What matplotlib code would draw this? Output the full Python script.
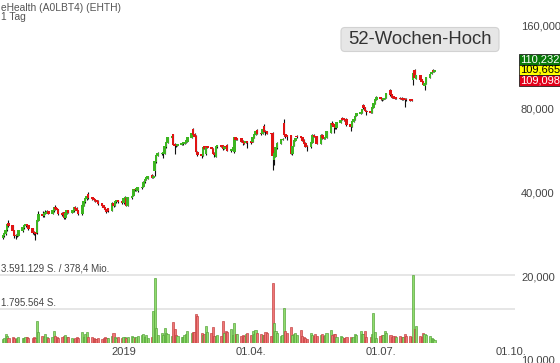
import datetime as dt
import matplotlib
matplotlib.use("Agg")
import matplotlib.pyplot as plt
import matplotlib.dates as mdates
import matplotlib.ticker as mticker
from matplotlib.patches import Rectangle, FancyBboxPatch
import pandas as pd

plt.rcParams['font.family'] = ['Liberation Sans', 'DejaVu Sans']

# ---------------- data ----------------
title = "eHealth (A0LBT4) (EHTH)"
interval_label = "1 Tag"
start_date = "2018-10-08"

opens = [
    27.6, 27.9, 28.4, 29.3, 30.9, 30.3, 29.1, 28.1, 27.9, 28.1,
    29.1, 29.8, 30.3, 30.6, 30.3, 29.6, 28.8, 28.6, 28.6, 31.8,
    33.4, 32.9, 33.7, 34.0, 34.1, 33.7, 34.3, 35.2, 34.9, 34.6,
    33.7, 33.9, 32.4, 33.7, 34.3, 34.0, 34.3, 35.2, 35.1, 34.3,
    33.5, 36.0, 37.0, 37.9, 39.2, 38.2, 37.9, 37.6, 37.3, 37.2,
    36.4, 35.8, 35.2, 34.6, 34.9, 34.4, 36.6, 36.0, 37.0, 37.3,
    37.0, 36.7, 38.0, 37.9, 36.0, 38.2, 39.0, 41.0, 40.8, 40.5,
    41.5, 42.0, 43.6, 44.6, 45.0, 46.0, 45.4, 48.0, 51.5, 54.4,
    55.0, 55.4, 55.4, 58.3, 60.5, 62.8, 64.4, 59.7, 59.4, 58.9,
    59.3, 59.8, 59.8, 60.5, 61.0, 63.0, 67.1, 64.8, 63.8, 55.6,
    54.8, 54.5, 58.4, 55.0, 58.3, 58.0, 57.3, 55.4, 54.0, 58.3,
    58.8, 58.8, 57.4, 58.5, 59.2, 56.8, 56.9, 56.0, 62.8, 62.5,
    62.5, 61.2, 60.7, 60.3, 60.8, 60.8, 61.0, 63.0, 64.5, 67.0,
    65.4, 65.4, 69.0, 66.5, 66.0, 65.2, 65.4, 52.5, 54.0, 57.8,
    60.2, 62.0, 71.0, 64.4, 64.0, 64.0, 55.4, 58.8, 61.5, 63.8,
    63.3, 63.0, 61.7, 60.2, 58.7, 58.3, 60.7, 64.3, 63.6, 63.3,
    60.2, 64.3, 63.0, 62.7, 63.2, 65.5, 71.0, 70.0, 68.8, 68.2,
    71.5, 73.5, 73.5, 73.0, 73.4, 70.3, 68.8, 72.2, 73.2, 75.3,
    76.6, 77.5, 82.5, 80.5, 78.5, 78.3, 77.2, 80.5, 83.2, 86.0,
    88.1, 86.5, 86.0, 86.9, 87.5, 93.4, 90.0, 88.5, 88.0, 87.6,
    87.4, 87.4, 86.8, 86.7, 86.7, 86.5, 86.0, 101.5, 110.2, 102.6,
    105.3, 102.0, 100.5, 97.3, 98.9, 103.5, 107.2, 109.6, 109.1,
]
closes = [
    27.9, 28.4, 29.3, 30.6, 30.3, 29.1, 28.1, 27.9, 28.1, 29.1,
    29.8, 30.3, 30.6, 30.3, 29.6, 28.8, 28.6, 28.4, 31.8, 33.2,
    32.9, 33.7, 34.0, 34.1, 33.7, 34.3, 35.2, 34.9, 34.6, 33.7,
    33.2, 32.4, 33.7, 34.3, 34.0, 34.3, 35.2, 35.1, 34.3, 33.5,
    36.0, 37.0, 37.9, 38.8, 38.2, 37.9, 37.6, 37.3, 37.2, 36.4,
    35.8, 35.2, 34.6, 34.1, 34.4, 36.6, 36.0, 37.0, 37.3, 37.0,
    36.9, 38.0, 38.2, 36.0, 38.2, 38.8, 41.0, 40.8, 41.2, 41.5,
    41.8, 43.6, 44.6, 45.3, 45.6, 45.4, 45.8, 51.5, 54.5, 55.2,
    55.4, 55.6, 58.3, 60.7, 62.8, 63.3, 59.7, 59.2, 58.9, 59.3,
    59.8, 60.3, 60.5, 61.5, 62.8, 64.9, 64.8, 63.8, 56.0, 54.8,
    54.5, 58.0, 57.4, 57.8, 58.0, 57.5, 55.4, 54.8, 58.3, 58.8,
    58.6, 57.3, 58.5, 58.3, 56.8, 56.9, 58.0, 62.8, 62.0, 62.0,
    61.2, 60.5, 60.2, 60.8, 60.4, 60.3, 62.8, 64.5, 66.5, 65.4,
    65.2, 67.6, 66.5, 66.0, 65.2, 65.0, 54.5, 55.0, 57.8, 60.2,
    62.0, 62.2, 64.4, 63.8, 63.5, 55.4, 58.3, 61.5, 62.5, 63.3,
    62.8, 61.7, 60.2, 58.5, 58.3, 60.7, 64.3, 63.6, 63.3, 60.2,
    64.3, 62.8, 62.7, 63.2, 66.0, 70.5, 70.0, 68.8, 68.2, 71.5,
    72.8, 73.0, 72.9, 72.5, 69.9, 68.8, 72.2, 73.2, 75.3, 76.6,
    77.5, 79.2, 80.5, 78.5, 77.9, 77.2, 80.5, 83.2, 86.0, 88.1,
    86.7, 86.0, 86.9, 87.4, 90.4, 89.6, 88.1, 87.6, 87.2, 87.2,
    87.0, 86.2, 86.4, 86.3, 86.0, 85.6, 85.5, 107.0, 104.0, 105.3,
    101.5, 100.5, 97.8, 98.9, 104.0, 106.6, 108.4, 109.1, 110.2,
]
highs = [
    28.2, 28.7, 29.6, 31.0, 31.8, 30.6, 29.4, 28.4, 28.5, 29.4,
    30.0, 30.5, 30.9, 30.8, 30.5, 29.9, 29.0, 28.9, 32.2, 34.3,
    34.2, 34.0, 34.5, 34.6, 34.4, 34.6, 35.5, 35.9, 35.2, 34.9,
    34.0, 34.1, 33.9, 34.6, 34.7, 34.6, 35.5, 35.6, 35.3, 34.6,
    36.3, 37.3, 38.2, 39.3, 40.0, 38.6, 38.2, 37.9, 37.6, 37.5,
    36.6, 36.0, 35.4, 34.8, 35.2, 36.9, 37.0, 37.3, 37.7, 37.6,
    37.3, 38.4, 38.8, 38.3, 38.5, 39.2, 41.3, 41.5, 41.6, 41.9,
    42.1, 43.9, 44.9, 45.6, 46.0, 46.4, 46.2, 52.0, 55.0, 55.8,
    55.8, 56.0, 58.7, 61.0, 63.2, 64.0, 65.0, 60.1, 59.8, 59.7,
    60.1, 60.6, 60.9, 61.9, 63.2, 65.6, 68.0, 65.6, 64.2, 56.2,
    55.2, 58.4, 58.8, 58.2, 58.7, 58.3, 57.6, 55.8, 58.7, 59.2,
    59.2, 59.2, 58.9, 58.9, 59.6, 57.3, 58.4, 63.2, 63.4, 63.0,
    62.9, 61.6, 61.1, 61.2, 61.3, 61.2, 63.1, 64.9, 66.9, 67.6,
    65.8, 68.0, 70.5, 66.8, 66.4, 65.6, 65.8, 55.5, 58.2, 60.6,
    62.4, 62.6, 73.5, 64.8, 64.4, 64.4, 58.7, 61.9, 62.9, 64.3,
    63.7, 63.4, 62.1, 60.6, 59.1, 61.1, 64.7, 64.8, 64.0, 63.7,
    64.7, 64.7, 63.4, 63.6, 66.4, 70.9, 72.3, 70.4, 69.2, 71.9,
    73.2, 74.5, 74.0, 73.4, 73.8, 70.7, 72.6, 73.6, 75.7, 77.0,
    77.9, 79.6, 83.0, 80.9, 78.9, 78.7, 80.9, 83.6, 86.4, 88.6,
    88.5, 86.9, 87.3, 87.8, 90.8, 94.5, 90.4, 88.9, 88.4, 88.0,
    87.8, 87.8, 87.2, 87.1, 87.1, 86.9, 86.4, 110.2, 111.0, 105.8,
    105.7, 102.4, 100.9, 99.3, 104.4, 107.0, 108.8, 111.0, 110.6,
]
lows = [
    27.2, 27.6, 28.1, 29.0, 30.0, 28.8, 27.5, 27.2, 27.6, 27.9,
    28.9, 29.6, 30.0, 30.0, 29.3, 28.4, 28.0, 27.0, 28.4, 31.5,
    32.5, 32.6, 33.4, 33.7, 33.4, 33.5, 34.0, 34.5, 34.2, 33.3,
    32.9, 32.1, 32.2, 33.4, 33.6, 33.8, 34.0, 34.7, 34.0, 33.1,
    33.3, 35.7, 36.7, 37.6, 37.9, 37.6, 37.2, 37.0, 36.8, 36.1,
    35.5, 34.9, 34.3, 33.7, 33.9, 34.2, 35.5, 35.7, 36.7, 36.6,
    36.2, 36.4, 37.6, 35.6, 35.7, 37.9, 38.7, 40.3, 40.3, 40.1,
    41.2, 41.7, 43.3, 44.3, 44.7, 45.0, 45.0, 46.0, 51.0, 54.0,
    54.6, 53.0, 55.0, 58.0, 60.2, 62.4, 59.3, 54.8, 58.4, 58.5,
    59.0, 59.4, 59.5, 60.2, 60.7, 62.7, 64.6, 63.2, 55.5, 54.2,
    53.0, 54.2, 57.1, 54.7, 57.6, 57.2, 55.0, 53.8, 53.6, 58.0,
    58.2, 57.0, 57.1, 57.9, 56.3, 56.0, 56.5, 55.6, 61.6, 61.5,
    60.9, 59.0, 59.8, 60.0, 58.0, 59.9, 60.7, 62.7, 64.2, 65.0,
    64.2, 65.0, 66.1, 64.6, 64.8, 64.6, 48.3, 50.0, 53.8, 57.5,
    59.9, 61.7, 64.0, 63.0, 61.5, 55.0, 54.6, 58.5, 61.2, 62.9,
    62.4, 61.4, 59.9, 58.2, 56.5, 58.0, 60.4, 63.2, 62.9, 59.6,
    59.5, 62.4, 62.2, 62.3, 62.9, 65.2, 69.6, 65.5, 67.8, 67.9,
    71.2, 72.6, 72.5, 72.1, 69.5, 66.5, 68.5, 71.9, 73.0, 75.0,
    76.3, 77.2, 80.1, 78.2, 76.0, 76.9, 76.9, 80.2, 82.9, 85.7,
    86.3, 85.6, 85.7, 86.6, 87.2, 89.2, 87.7, 87.2, 86.8, 86.8,
    86.6, 85.8, 86.0, 81.2, 85.6, 85.2, 85.1, 97.3, 103.5, 102.2,
    101.1, 100.1, 97.0, 93.4, 98.5, 103.1, 106.8, 108.7, 108.7,
]
# volume in thousand shares
volumes = [
    210, 262, 472, 367, 262, 314, 262, 210, 262, 314,
    262, 262, 314, 314, 262, 262, 314, 262, 1153, 576,
    367, 314, 472, 314, 262, 314, 629, 367, 314, 262,
    314, 367, 419, 314, 314, 262, 210, 262, 314, 262,
    576, 314, 472, 576, 314, 314, 262, 210, 210, 262,
    210, 262, 314, 262, 262, 367, 524, 314, 262, 314,
    262, 314, 314, 262, 314, 367, 314, 262, 314, 367,
    419, 472, 314, 419, 262, 314, 1677, 3406, 786, 419,
    524, 419, 786, 524, 472, 367, 1100, 734, 419, 367,
    314, 314, 419, 472, 629, 524, 576, 576, 1520, 1415,
    524, 419, 472, 891, 576, 524, 838, 367, 367, 419,
    367, 1153, 524, 629, 576, 734, 419, 1048, 472, 472,
    367, 419, 367, 472, 524, 419, 629, 472, 681, 524,
    472, 419, 419, 576, 524, 367, 3144, 1048, 629, 524,
    367, 419, 1834, 629, 524, 838, 419, 472, 524, 419,
    681, 367, 314, 262, 210, 524, 419, 367, 472, 367,
    419, 472, 367, 419, 524, 681, 419, 472, 472, 314,
    367, 314, 262, 262, 314, 314, 262, 314, 472, 419,
    629, 472, 472, 629, 314, 314, 472, 1572, 576, 262,
    367, 419, 419, 629, 524, 419, 314, 367, 367, 314,
    367, 314, 314, 472, 367, 367, 314, 3563, 734, 891,
    367, 314, 524, 472, 419, 367, 262, 210, 157,
]

price_ticks = [10, 20, 40, 80, 160]
price_tick_labels = ["10,000", "20,000", "40,000", "80,000", "160,000"]
date_ticks = ["2019-01-01", "2019-04-01", "2019-07-01", "2019-10-01"]
date_tick_labels = ["2019", "01.04.", "01.07.", "01.10."]
volume_levels = [3591.129, 1795.564]
volume_level_labels = ["3.591.129 S. / 378,4 Mio.", "1.795.564 S."]
quote_labels = ["110,232", "109,665", "109,098"]
quote_colors = ["#0a7a0a", "#ffff00", "#e2001a"]
quote_text_colors = ["white", "black", "white"]
badge_text = "52-Wochen-Hoch"

# ---------------- figure ----------------
W, H = 560, 363
fig = plt.figure(figsize=(W / 100, H / 100), dpi=100)

dates = pd.bdate_range(start_date, periods=len(closes))
xd = mdates.date2num(dates.to_pydatetime())
base = mdates.date2num(dt.datetime(2019, 1, 1))
px_per_day = 1.42
x0_px = 123.5
plot_right = 515
xlim = (base - x0_px / px_per_day, base + (plot_right - x0_px) / px_per_day)

# price axes (log scale)
axp = fig.add_axes([0, 0, plot_right / W, 1])
axp.set_facecolor("none")
axp.set_yscale("log")
y_top = 160 * 2 ** (25 / 83.7)
y_bot = 160 * 2 ** (-(H - 25) / 83.7)
axp.set_ylim(y_bot, y_top)
axp.set_xlim(*xlim)

up_col, dn_col = "#3cb521", "#e01414"
body_cols = [up_col if c >= o else dn_col for o, c in zip(opens, closes)]
axp.vlines(xd, lows, highs, color="#111111", lw=0.8, zorder=2)
bottoms = [min(o, c) / 1.004 for o, c in zip(opens, closes)]
tops = [max(o, c) * 1.004 for o, c in zip(opens, closes)]
heights = [t - b for t, b in zip(tops, bottoms)]
axp.bar(xd, heights, bottom=bottoms, width=1.8, color=body_cols,
        linewidth=0, zorder=3)

axp.yaxis.tick_right()
axp.yaxis.set_major_locator(mticker.FixedLocator(price_ticks))
axp.yaxis.set_major_formatter(mticker.FixedFormatter(price_tick_labels))
axp.yaxis.set_minor_locator(mticker.NullLocator())
axp.tick_params(axis="y", length=0, pad=4.3, labelsize=8, colors="#444444")
axp.set_xticks([])
for s in axp.spines.values():
    s.set_visible(False)

# volume axes
vol_bottom_px, vol_top_px = 343, 255
axv = fig.add_axes([0, (H - vol_bottom_px) / H, plot_right / W,
                    (vol_bottom_px - vol_top_px) / H], zorder=-1)
axv.set_facecolor("none")
vmax = volume_levels[0] * (vol_bottom_px - vol_top_px) / (vol_bottom_px - 274.5)
axv.set_ylim(0, vmax)
axv.set_xlim(*xlim)
for lev in volume_levels:
    axv.axhline(lev, color="#e2e2e2", lw=1.2, zorder=0)
vcols, vedges = [], []
for i, c in enumerate(closes):
    up = True if i == 0 else c >= closes[i - 1]
    vcols.append("#8fdc6c" if up else "#ef7676")
    vedges.append("#4f9e33" if up else "#c03a3a")
axv.bar(xd, volumes, width=1.5, color=vcols, edgecolor=vedges,
        linewidth=0.45, zorder=2)
axv.set_yticks([])
axv.set_xticks(mdates.date2num(pd.to_datetime(date_ticks).to_pydatetime()))
axv.set_xticklabels(date_tick_labels)
axv.tick_params(axis="x", length=0, pad=3.0, labelsize=8, colors="#444444")
for s in axv.spines.values():
    s.set_visible(False)

# overlay axes in pixel coordinates for annotations
axo = fig.add_axes([0, 0, 1, 1], zorder=10)
axo.set_xlim(0, W)
axo.set_ylim(H, 0)
axo.axis("off")
axo.set_facecolor("none")

axo.text(1, 10.7, title, fontsize=7.4, color="#555555", va="baseline", ha="left")
axo.text(1, 20.2, interval_label, fontsize=7.4, color="#555555", va="baseline", ha="left")

axo.text(1, 271.5, volume_level_labels[0], fontsize=7, color="#444444",
         va="baseline", ha="left")
axo.text(1, 306.5, volume_level_labels[1], fontsize=7, color="#444444",
         va="baseline", ha="left")

# 52-week-high badge
badge = FancyBboxPatch((341, 27.5), 158, 24, boxstyle="round,pad=0,rounding_size=4",
                       facecolor="#e6e6e6", edgecolor="#d2d2d2", lw=0.8)
axo.add_patch(badge)
axo.text(420, 39.8, badge_text, fontsize=13.3, color="#333333",
         ha="center", va="center")

# quote boxes
box_tops = [54, 64.5, 75]
for lab, fc, tc, yt in zip(quote_labels, quote_colors, quote_text_colors, box_tops):
    axo.add_patch(Rectangle((518.5, yt), 45, 10.5, facecolor=fc,
                            edgecolor="#222222", lw=0.6))
    axo.text(520, yt + 5.4, lab, fontsize=8, color=tc, ha="left", va="center")

fig.savefig("out.png", dpi=100)
